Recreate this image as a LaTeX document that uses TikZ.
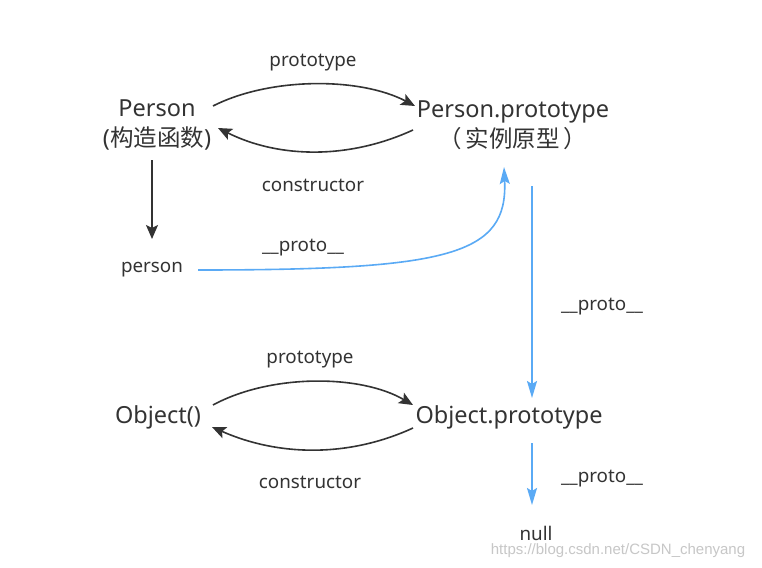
\documentclass[tikz,border=0pt]{standalone}
\usepackage{fontspec}
\setmainfont{Noto Sans}
\newfontfamily\cjk{Noto Sans CJK SC}
\newfontfamily\wmfont{Liberation Sans}
\usetikzlibrary{arrows.meta}
\definecolor{txt}{HTML}{333333}
\definecolor{blu}{HTML}{5AAAF5}
\begin{document}
\begin{tikzpicture}[x=1pt,y=-1pt,
  big/.style={text=txt,inner sep=0pt,align=center,font=\fontsize{23.5}{30}\selectfont},
  lbl/.style={text=txt,inner sep=0pt,font=\fontsize{18.8}{20}\selectfont},
  blk/.style={draw=txt,line width=1.6pt,-{Stealth[length=14pt,width=12pt,inset=3pt]}},
  bl/.style={draw=blu,line width=1.6pt,-{Stealth[length=17pt,width=10pt,inset=3pt]}}]
\useasboundingbox[fill=white] (0,0) rectangle (762,567);
% nodes
\node[big] (P) at (157,125) {Person\\({\cjk 构造函数})};
\node[big] (PP) at (513,125) {Person.prototype\\{\cjk （\,实例原型\,）}};
\node[lbl] (p) at (152,270) {person};
\node[big] (O) at (158,417) {Object()};
\node[big] (OP) at (509,417) {Object.prototype};
\node[lbl] (n) at (536,533) {null};
% labels
\node[lbl] (l1) at (313,63) {prototype};
\node[lbl] (l2) at (313,185) {constructor};
\node[lbl] (l3) at (303,248) {\_\_proto\_\_};
\node[lbl] (l4) at (602,307) {\_\_proto\_\_};
\node[lbl] (l5) at (310,360) {prototype};
\node[lbl] (l6) at (310,482) {constructor};
\node[lbl] (l7) at (602,479) {\_\_proto\_\_};
\node[text=black!22,inner sep=0pt,font=\wmfont\fontsize{15}{17}\selectfont] (wm) at (618,551) {https://blog.csdn.net/CSDN\_chenyang};
% connectors
\draw[blk] ([shift={(56,-19)}]P.center) .. controls ([shift={(113,-48)}]P.center) and ([shift={(203,-48)}]P.center) .. ([shift={(-98,-19)}]PP.center);
\draw[blk] ([shift={(-100,5)}]PP.center) .. controls ([shift={(-163,34)}]PP.center) and ([shift={(-233,34)}]PP.center) .. ([shift={(-295,3)}]PP.center);
\draw[blk] ([shift={(-5,35)}]P.center) -- ([shift={(-5,114)}]P.center);
\draw[bl] ([shift={(46,0)}]p.center) .. controls ([shift={(298,0)}]p.center) and ([shift={(356,-15)}]p.center) .. ([shift={(-9,42)}]PP.center);
\draw[bl] ([shift={(19,61)}]PP.center) -- ([shift={(23,-19)}]OP.center);
\draw[blk] ([shift={(55,-12)}]O.center) .. controls ([shift={(112,-43)}]O.center) and ([shift={(202,-43)}]O.center) .. ([shift={(-96,-12)}]OP.center);
\draw[blk] ([shift={(-96,11)}]OP.center) .. controls ([shift={(-159,40)}]OP.center) and ([shift={(-229,40)}]OP.center) .. ([shift={(-297,10)}]OP.center);
\draw[bl] ([shift={(23,26)}]OP.center) -- ([shift={(-4,-28)}]n.center);
\end{tikzpicture}
\end{document}
